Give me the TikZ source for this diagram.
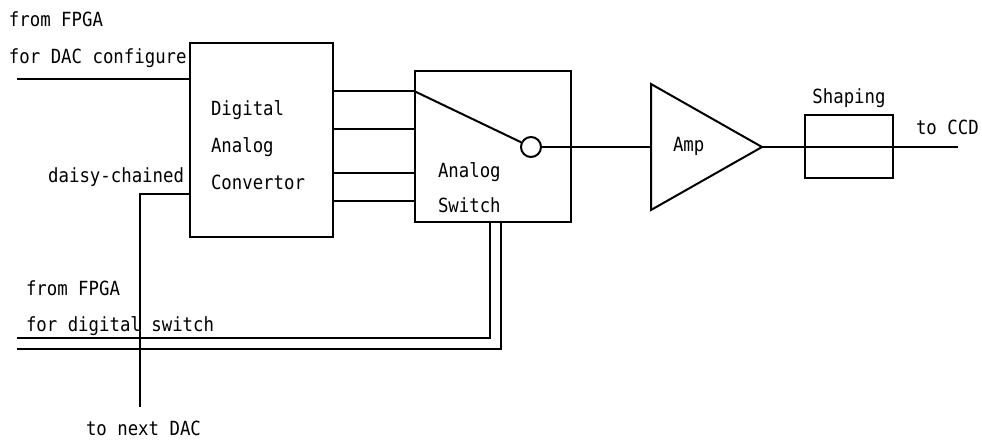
\documentclass[tikz,border=0pt]{standalone}
\usepackage{fontspec}
\setmainfont[FakeStretch=0.89]{DejaVu Sans Mono}
\begin{document}
\begin{tikzpicture}[x=1pt,y=-1pt,line width=2pt,
  blk/.style={draw,rectangle,inner sep=0pt},
  lbl/.style={anchor=base west,inner sep=0pt,font=\fontsize{19.5}{22}\selectfont},
  lblc/.style={anchor=base,inner sep=0pt,font=\fontsize{19.5}{22}\selectfont},
  lble/.style={anchor=base east,inner sep=0pt,font=\fontsize{19.5}{22}\selectfont}]
\useasboundingbox (0,0) rectangle (982,439);
% blocks
\node[blk,minimum width=143pt,minimum height=194pt] (dac) at (261.5,140) {};
\node[blk,minimum width=156pt,minimum height=151pt] (sw) at (493,146.5) {};
\node[blk,minimum width=88pt,minimum height=63pt] (shp) at (849,146.5) {};
\node[draw,circle,minimum size=20pt,inner sep=0pt] (sc) at (531,147) {};
\coordinate (a1) at (651,84);
\coordinate (a2) at (651,210);
\coordinate (a3) at (762,147);
\draw[line join=miter] (a1) -- (a3) -- (a2) -- cycle;
% texts
\node[lbl] (t1) at (8,27) {from FPGA};
\node[lbl] (t2) at (8,63) {for DAC configure};
\node[lbl] (d1) at (210,115) {Digital};
\node[lbl] (d2) at (210,152) {Analog};
\node[lbl] (d3) at (210,189) {Convertor};
\node[lble] (dc) at (185,182) {daisy-chained};
\node[lbl] (s1t) at (437,177) {Analog};
\node[lbl] (s2t) at (437,212) {Switch};
\node[lbl] (amp) at (672,151) {Amp};
\node[lblc] (shpt) at (849,103) {Shaping};
\node[lbl] (ccd) at (915,134) {to CCD};
\node[lbl] (t3) at (25,295) {from FPGA};
\node[lbl] (t4) at (25,331) {for digital switch};
\node[lbl] (t5) at (85,435) {to next DAC};
% connectors
\coordinate (in1) at (17,79);
\draw (in1) -- (in1 -| dac.west);
\coordinate (dcc) at (140,194);
\coordinate (dn) at (140,407);
\draw (dcc -| dac.west) -- (dcc) -- (dn);
\foreach \y in {91,129,173,201} {
  \draw (dac.east |- 0,\y) -- (sw.west |- 0,\y);
}
\draw (sw.west |- 0,91) -- (sc);
\draw (sc) -- (a1 |- sc);
\coordinate (out) at (958,147);
\draw (a3) -- (out);
\coordinate (v1) at (490,338);
\coordinate (v2) at (501,349);
\coordinate (l1) at (17,338);
\coordinate (l2) at (17,349);
\draw (sw.south -| v1) -- (v1) -- (l1);
\draw (sw.south -| v2) -- (v2) -- (l2);
\end{tikzpicture}
\end{document}
